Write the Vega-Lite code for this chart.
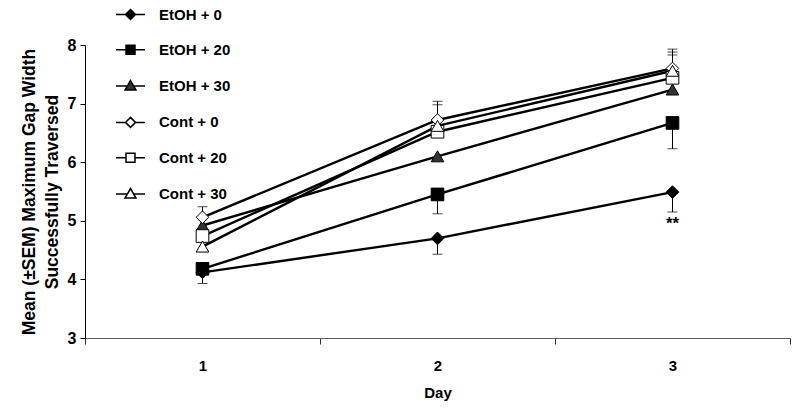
{
  "$schema": "https://vega.github.io/schema/vega-lite/v6.json",
  "autosize": "none",
  "width": 705,
  "height": 293,
  "padding": {"top": 45, "left": 85, "right": 10, "bottom": 70},
  "background": "white",
  "config": {
    "view": {"stroke": null},
    "font": "Liberation Sans",
    "axis": {"grid": false, "labelFont": "Liberation Sans", "titleFont": "Liberation Sans", "labelFontWeight": "bold", "titleFontWeight": "bold", "labelColor": "black", "titleColor": "black"}
  },
  "datasets": {
    "means": [
      {"series": "EtOH + 0", "day": "1", "value": 4.12},
      {"series": "EtOH + 0", "day": "2", "value": 4.70},
      {"series": "EtOH + 0", "day": "3", "value": 5.49},
      {"series": "EtOH + 20", "day": "1", "value": 4.18},
      {"series": "EtOH + 20", "day": "2", "value": 5.45},
      {"series": "EtOH + 20", "day": "3", "value": 6.67},
      {"series": "EtOH + 30", "day": "1", "value": 4.92},
      {"series": "EtOH + 30", "day": "2", "value": 6.10},
      {"series": "EtOH + 30", "day": "3", "value": 7.24},
      {"series": "Cont + 0", "day": "1", "value": 5.06},
      {"series": "Cont + 0", "day": "2", "value": 6.72},
      {"series": "Cont + 0", "day": "3", "value": 7.60},
      {"series": "Cont + 20", "day": "1", "value": 4.74},
      {"series": "Cont + 20", "day": "2", "value": 6.52},
      {"series": "Cont + 20", "day": "3", "value": 7.44},
      {"series": "Cont + 30", "day": "1", "value": 4.56},
      {"series": "Cont + 30", "day": "2", "value": 6.62},
      {"series": "Cont + 30", "day": "3", "value": 7.56}
    ],
    "errors": [
      {"series": "EtOH + 0", "day": "1", "value": 4.12, "end": 3.93},
      {"series": "EtOH + 0", "day": "2", "value": 4.70, "end": 4.43},
      {"series": "EtOH + 0", "day": "3", "value": 5.49, "end": 5.15},
      {"series": "EtOH + 20", "day": "2", "value": 5.45, "end": 5.12},
      {"series": "EtOH + 20", "day": "3", "value": 6.67, "end": 6.23},
      {"series": "Cont + 0", "day": "1", "value": 5.06, "end": 5.24},
      {"series": "Cont + 0", "day": "2", "value": 6.72, "end": 7.04},
      {"series": "Cont + 0", "day": "3", "value": 7.60, "end": 7.93},
      {"series": "Cont + 30", "day": "2", "value": 6.62, "end": 6.98},
      {"series": "Cont + 30", "day": "3", "value": 7.56, "end": 7.88},
      {"series": "Cont + 20", "day": "3", "value": 7.44, "end": 7.83}
    ],
    "notes": [
      {"day": "3", "value": 4.95, "label": "**"}
    ]
  },
  "encoding": {
    "x": {
      "field": "day", "type": "ordinal",
      "scale": {"type": "band", "domain": ["1", "2", "3"], "paddingInner": 0, "paddingOuter": 0},
      "axis": {"title": "Day", "labelAngle": 0, "tickBand": "extent", "domainColor": "#606060", "tickColor": "#303030", "tickSize": 6, "labelFontSize": 15, "labelPadding": 14, "titleFontSize": 15, "titlePadding": 12}
    },
    "y": {
      "field": "value", "type": "quantitative",
      "scale": {"domain": [3, 8], "nice": false, "zero": false},
      "axis": {"title": ["Mean (±SEM) Maximum Gap Width", "Successfully Traversed"], "values": [3, 4, 5, 6, 7, 8], "domainColor": "black", "tickColor": "black", "tickSize": 5, "labelFontSize": 16, "labelPadding": 4, "titleFontSize": 17.5, "titleLineHeight": 23, "titlePadding": 6}
    }
  },
  "layer": [
    {
      "data": {"name": "errors"},
      "mark": {"type": "rule", "color": "black", "strokeWidth": 1},
      "encoding": {"y2": {"field": "end"}}
    },
    {
      "data": {"name": "errors"},
      "mark": {"type": "tick", "color": "black", "thickness": 1, "size": 10, "orient": "horizontal"},
      "encoding": {"y": {"field": "end", "type": "quantitative"}}
    },
    {
      "data": {"name": "means"},
      "mark": {"type": "line", "color": "black", "strokeWidth": 2.4},
      "encoding": {"detail": {"field": "series"}}
    },
    {
      "data": {"name": "means"},
      "mark": {"type": "point", "filled": true, "stroke": "black", "strokeWidth": 1, "opacity": 1, "size": 160},
      "encoding": {
        "shape": {"field": "series", "legend": null, "scale": {"domain": ["EtOH + 0", "EtOH + 20", "EtOH + 30", "Cont + 0", "Cont + 20", "Cont + 30"], "range": ["diamond", "square", "triangle-up", "diamond", "square", "triangle-up"]}},
        "fill": {"field": "series", "legend": null, "scale": {"domain": ["EtOH + 0", "EtOH + 20", "EtOH + 30", "Cont + 0", "Cont + 20", "Cont + 30"], "range": ["black", "black", "#333333", "white", "white", "white"]}}
      }
    },
    {
      "data": {"name": "means"},
      "transform": [{"filter": "datum.series == 'legend-only'"}],
      "mark": {"type": "point", "filled": true, "stroke": "black", "strokeWidth": 1.8, "opacity": 1, "size": 100},
      "encoding": {
        "shape": {"field": "series", "scale": {"domain": ["EtOH + 0", "EtOH + 20", "EtOH + 30", "Cont + 0", "Cont + 20", "Cont + 30"], "range": [
          "M-2.9,0H-1M1,0H2.9M0,-1L1,0L0,1L-1,0Z",
          "M-2.9,0H-0.9M0.9,0H2.9M-0.9,-0.9H0.9V0.9H-0.9Z",
          "M-2.9,0H-0.64M0.64,0H2.9M0,-1.1L1.1,0.8L-1.1,0.8Z",
          "M-2.9,0H-1M1,0H2.9M0,-1L1,0L0,1L-1,0Z",
          "M-2.9,0H-0.9M0.9,0H2.9M-0.9,-0.9H0.9V0.9H-0.9Z",
          "M-2.9,0H-0.64M0.64,0H2.9M0,-1.1L1.1,0.8L-1.1,0.8Z"
        ]},
          "legend": {"title": null, "orient": "none", "legendX": 38, "legendY": -38, "padding": 0, "labelFont": "Liberation Sans", "labelFontWeight": "bold", "labelFontSize": 15, "labelColor": "black", "labelOffset": 21, "rowPadding": 19.3, "symbolSize": 100,
            "encode": {"symbols": {"update": {"stroke": {"value": "black"}, "strokeWidth": {"value": 1.8}, "size": {"value": 100}, "opacity": {"value": 1}}}}}
        },
        "fill": {"field": "series", "scale": {"domain": ["EtOH + 0", "EtOH + 20", "EtOH + 30", "Cont + 0", "Cont + 20", "Cont + 30"], "range": ["black", "black", "#333333", "white", "white", "white"]},
          "legend": {"title": null, "orient": "none", "legendX": 38, "legendY": -38, "padding": 0, "labelFont": "Liberation Sans", "labelFontWeight": "bold", "labelFontSize": 15, "labelColor": "black", "labelOffset": 21, "rowPadding": 19.3, "symbolSize": 100,
            "encode": {"symbols": {"update": {"stroke": {"value": "black"}, "strokeWidth": {"value": 1.8}, "size": {"value": 100}, "opacity": {"value": 1}}}}}
        }
      }
    },
    {
      "data": {"name": "notes"},
      "mark": {"type": "text", "font": "Liberation Sans", "fontSize": 17, "fontWeight": "bold", "baseline": "middle", "color": "black"},
      "encoding": {"text": {"field": "label"}}
    }
  ],
  "resolve": {"scale": {"shape": "independent", "fill": "independent"}}
}
